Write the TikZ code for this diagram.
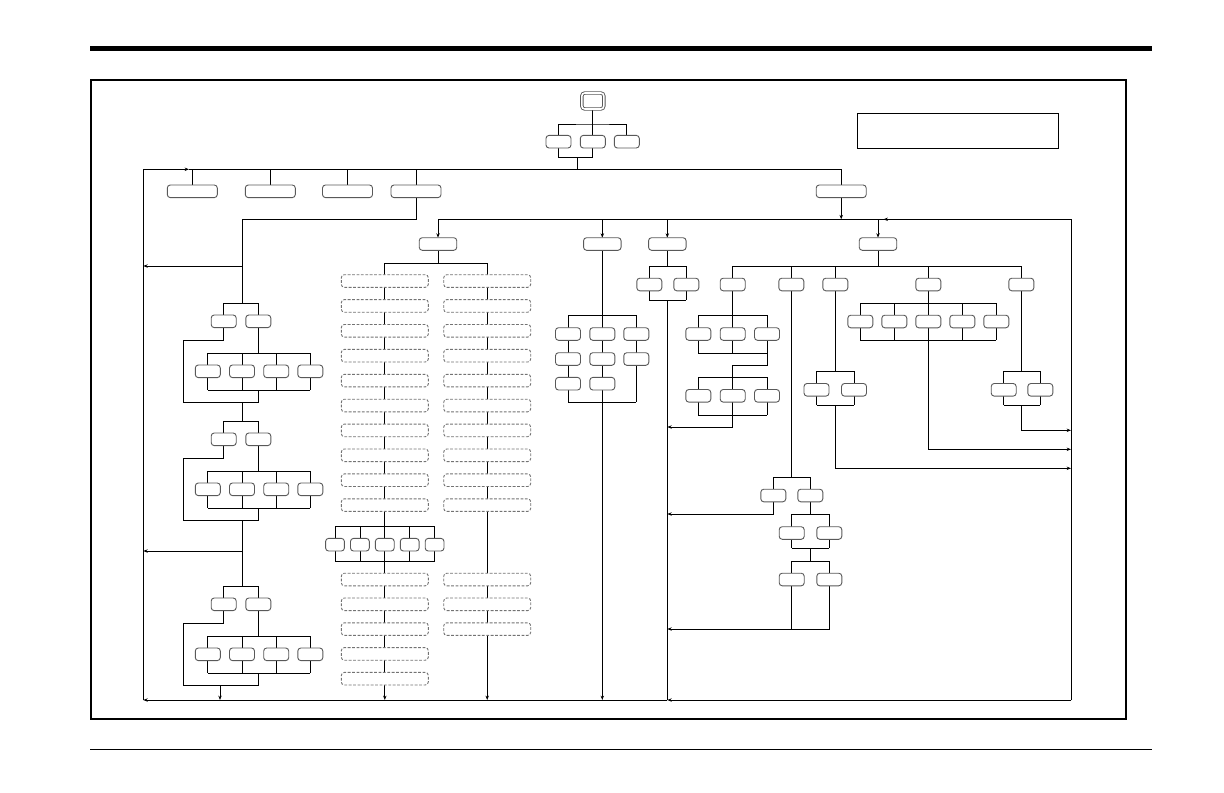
\documentclass[tikz,border=0pt]{standalone}
\usetikzlibrary{arrows.meta,backgrounds}
\begin{document}
\begin{tikzpicture}[x=0.5pt, y=-0.5pt,
  line width=0.6pt,
  bx/.style={draw=black!65, rounded corners=1.5pt, line width=0.45pt, inner sep=0pt, outer sep=0pt,
    minimum width=12.5pt, minimum height=6.3pt, fill=white},
  wbx/.style={bx, minimum width=25pt},
  mbx/.style={bx, minimum width=18.75pt},
  tbx/.style={bx, minimum width=9.4pt},
  dbx/.style={bx, draw=black!55, dash pattern=on 1.4pt off 0.8pt, minimum width=43.5pt},
  arr/.style={-{Stealth[length=2.2pt,width=1.7pt]}}]
  \useasboundingbox (0,0) rectangle (1224,792);
  % page rules and frame
  \draw[line width=2.3pt] (90,48.3) -- (1152,48.3);
  \draw[line width=0.7pt] (90,749.6) -- (1152,749.6);
  \draw[line width=1pt] (91,80.2) rectangle (1126,718.5);
  \node[draw, line width=0.6pt, minimum width=100.5pt, minimum height=17.5pt] (note) at (958,130.8) {};

  % top
  \node[bx, double=white, double distance=0.8pt, minimum width=11pt, minimum height=8pt] (root) at (592.8,101) {};
  \node[bx] (t1) at (558.5,141.7) {};
  \node[bx] (t2) at (592.8,141.7) {};
  \node[bx] (t3) at (626.8,141.7) {};
  \node[wbx] (b1) at (192.3,191.3) {};
  \node[wbx] (b2) at (270.3,191.3) {};
  \node[wbx] (b3) at (347.5,191.3) {};
  \node[wbx] (b4) at (416,191.3) {};
  \node[wbx] (b5) at (841.2,191.3) {};
  \node[mbx] (c1) at (438,244) {};
  \node[mbx] (c2) at (602.3,244) {};
  \node[mbx] (c3) at (667.3,244) {};
  \node[mbx] (c4) at (878,244) {};

  % dashed columns
  \foreach \k in {0,...,9} {
    \node[dbx] (da\k) at (384.8,281+24.9*\k) {};
    \node[dbx] (db\k) at (487.2,281+24.9*\k) {};
  }
  \foreach \k in {0,...,4}
    \node[dbx] (dc\k) at (384.8,579.5+24.8*\k) {};
  \foreach \k in {0,1,2}
    \node[dbx] (dd\k) at (487.2,579.5+24.8*\k) {};
  \foreach \k in {0,...,4}
    \node[tbx] (f\k) at (335+24.9*\k,544.7) {};

  % left groups
  \foreach \g/\y in {1/303.3,2/421.3,3/586.3} {
    \node[bx] (pa\g) at (223.7,\y+18) {};
    \node[bx] (pb\g) at (258.3,\y+18) {};
    \foreach \k/\x in {1/207.8,2/242,3/276.2,4/310.3}
      \node[bx] (q\g\k) at (\x,\y+68) {};
    \coordinate (s\g) at (242.3,\y);
    \coordinate (lp\g) at (183.3,\y+37);
    \coordinate (h\g) at (258.3,\y+50);
    \coordinate (k\g) at (258.3,\y+87);
    \coordinate (rp\g) at (258.3,\y+99);
  }

  % grid under c2
  \foreach \c/\x in {1/568,2/602.3,3/636.3} {
    \node[bx] (m1\c) at (\x,334) {};
    \node[bx] (m2\c) at (\x,359) {};
  }
  \node[bx] (m31) at (568,383.7) {};
  \node[bx] (m32) at (602.3,383.7) {};

  % under c3 and c4
  \node[bx] (n1) at (649.3,284.5) {};
  \node[bx] (n2) at (686.3,284.5) {};
  \foreach \k/\x in {1/732.7,2/791.3,3/835.3,4/928.3,5/1021.3}
    \node[bx] (e\k) at (\x,284.5) {};
  \foreach \k/\x in {1/698.3,2/732.7,3/767} {
    \node[bx] (u\k) at (\x,334) {};
    \node[bx] (v\k) at (\x,395.8) {};
  }
  \node[bx] (w1) at (773.3,495.5) {};
  \node[bx] (w2) at (810.3,495.5) {};
  \node[bx] (w3) at (791.7,533) {};
  \node[bx] (w4) at (829.3,533) {};
  \node[bx] (w5) at (791.7,579.5) {};
  \node[bx] (w6) at (829.3,579.5) {};
  \node[bx] (x1) at (816.5,389.8) {};
  \node[bx] (x2) at (854,389.8) {};
  \foreach \k in {1,...,5}
    \node[bx] (y\k) at (826.3+34*\k,321.5) {};
  \node[bx] (z1) at (1003.7,389.8) {};
  \node[bx] (z2) at (1040.3,389.8) {};

  % junction points
  \coordinate (rj) at (592.8,124);
  \coordinate (tj) at (577.3,157.3);
  \coordinate (bus) at (577.3,169.3);
  \coordinate (lc) at (143.3,169.3);
  \coordinate (la) at (189,169.3);
  \coordinate (lb) at (143.3,700);
  \coordinate (kb) at (667.3,700);
  \coordinate (rb) at (1071,700);
  \coordinate (cl) at (438,219.3);
  \coordinate (cr) at (1071,219.3);
  \coordinate (ca) at (883.5,219.3);
  \coordinate (sp) at (242.3,219.3);
  \coordinate (ar1) at (242.3,266);
  \coordinate (al1) at (143.3,266);
  \coordinate (ar2) at (242.3,551);
  \coordinate (al2) at (143.3,551);
  \coordinate (ex) at (220,700);
  \coordinate (dj) at (438,263);
  \coordinate (fj) at (384.8,526.7);
  \coordinate (fk) at (384.8,561);
  \coordinate (gj) at (602.3,315.3);
  \coordinate (gk) at (602.3,402.3);
  \coordinate (nj) at (667.3,266.3);
  \coordinate (nk) at (667.3,300.3);
  \coordinate (ej) at (878,266);
  \coordinate (uj) at (732.7,315.3);
  \coordinate (uk) at (732.7,353.3);
  \coordinate (ul) at (732.7,365.3);
  \coordinate (vj) at (732.7,377.3);
  \coordinate (vk) at (732.7,415.3);
  \coordinate (kj1) at (667.3,427);
  \coordinate (wj) at (791.3,477.3);
  \coordinate (kj2) at (667.3,514);
  \coordinate (wk) at (810.3,548.3);
  \coordinate (wl) at (810.3,561);
  \coordinate (kj3) at (667.3,629);
  \coordinate (xj) at (835.3,371.3);
  \coordinate (xk) at (835.3,405.3);
  \coordinate (xa) at (1071,468.3);
  \coordinate (yj) at (928.3,303.3);
  \coordinate (yk) at (928.3,340.3);
  \coordinate (ya) at (1071,449.3);
  \coordinate (zj) at (1021.3,371.3);
  \coordinate (zk) at (1021.3,405.3);
  \coordinate (za) at (1071,430.3);

  \begin{scope}[on background layer]
    % top tree and bus
    \draw (root) -- (t2);
    \draw (t1.north) |- (rj) -| (t3.north);
    \draw (t1.south) |- (tj) -| (t2.south);
    \draw (tj) -- (bus);
    \draw (lb) -- (lc);
    \draw[arr] (lc) -- (la);
    \draw (la) -- (bus) -| (b5.north);
    \foreach \b in {b1,b2,b3,b4}
      \draw (\b.north) -- (\b |- bus);
    \draw (cl) -- (cr);
    \draw[arr] (b5.south) -- (b5 |- cl);
    \draw (rb) -- (cr);
    \draw[arr] (cr) -- (ca);
    \foreach \c in {c1,c2,c3,c4}
      \draw[arr] (\c |- cl) -- (\c.north);
    % bottom line
    \draw[arr] (rb) -- (kb);
    \draw[arr] (kb) -- (lb);

    % left spine
    \draw (b4.south) |- (sp) -- (s1);
    \draw[arr] (ar1) -- (al1);
    \draw (sp |- rp1) -- (s2);
    \draw (sp |- rp2) -- (s3);
    \draw[arr] (ar2) -- (al2);
    \draw[arr] (ex |- rp3) -- (ex);
    \foreach \g in {1,2,3} {
      \draw (pa\g.north) |- (s\g) -| (pb\g.north);
      \draw (pa\g.south) |- (lp\g) |- (rp\g) -- (k\g);
      \draw (pb\g.south) -- (h\g);
      \draw (q\g1 |- h\g) -- (q\g4 |- h\g);
      \draw (q\g1 |- k\g) -- (q\g4 |- k\g);
      \foreach \k in {1,...,4}
        \draw (q\g\k |- h\g) -- (q\g\k |- k\g);
    }

    % dashed columns
    \draw (c1) -- (dj);
    \draw (da0 |- dj) -- (db0 |- dj);
    \draw[arr] (da0 |- dj) -- (da0 |- lb);
    \draw[arr] (db0 |- dj) -- (db0 |- lb);
    \draw (f0 |- fj) -- (f4 |- fj);
    \draw (f0 |- fk) -- (f4 |- fk);
    \foreach \k in {0,...,4}
      \draw (f\k |- fj) -- (f\k |- fk);

    % grid
    \draw[arr] (c2) -- (c2 |- lb);
    \draw (m11 |- gj) -- (m13 |- gj);
    \draw (m11 |- gk) -- (m13 |- gk);
    \draw (m11 |- gj) -- (m11 |- gk);
    \draw (m13 |- gj) -- (m13 |- gk);

    % c3 branch
    \draw (c3) -- (nj);
    \draw (n1 |- nj) -- (n2 |- nj);
    \draw (n1 |- nk) -- (n2 |- nk);
    \draw (n1 |- nj) -- (n1 |- nk);
    \draw (n2 |- nj) -- (n2 |- nk);
    \draw (nk) -- (kb);

    % c4 branch
    \draw (c4) -- (ej);
    \draw (e1 |- ej) -- (e5 |- ej);
    \foreach \k in {1,...,5}
      \draw (e\k |- ej) -- (e\k);
    % e1
    \draw (e1) -- (uj);
    \draw (u1 |- uj) -- (u3 |- uj);
    \draw (u1 |- uk) -- (u3 |- uk);
    \foreach \k in {1,2,3} {
      \draw (u\k |- uj) -- (u\k |- uk);
      \draw (v\k |- vj) -- (v\k |- vk);
    }
    \draw (u3 |- uk) |- (ul) -- (vj);
    \draw (v1 |- vj) -- (v3 |- vj);
    \draw (v1 |- vk) -- (v3 |- vk);
    \draw[arr] (vk) |- (kj1);
    % e2
    \draw (e2) -- (wj);
    \draw (w1 |- wj) -- (w2 |- wj);
    \draw (w1 |- wj) -- (w1);
    \draw (w2 |- wj) -- (w2);
    \draw[arr] (w1) |- (kj2);
    \draw (w2) -- (w2 |- kj2);
    \draw (w3 |- kj2) -- (w4 |- kj2);
    \draw (w3 |- kj2) -- (w3);
    \draw (w4 |- kj2) -- (w4);
    \draw (w3 |- wk) -- (w4 |- wk);
    \draw (w3) -- (w3 |- wk);
    \draw (w4) -- (w4 |- wk);
    \draw (wk) -- (wl);
    \draw (w5 |- wl) -- (w6 |- wl);
    \draw (w5 |- wl) -- (w5);
    \draw (w6 |- wl) -- (w6);
    \draw (w5) -- (w5 |- kj3);
    \draw[arr] (w6) |- (kj3);
    % e3
    \draw (e3) -- (xj);
    \draw (x1 |- xj) -- (x2 |- xj);
    \draw (x1 |- xk) -- (x2 |- xk);
    \draw (x1 |- xj) -- (x1 |- xk);
    \draw (x2 |- xj) -- (x2 |- xk);
    \draw[arr] (xk) |- (xa);
    % e4
    \draw (e4) -- (yj);
    \draw (y1 |- yj) -- (y5 |- yj);
    \draw (y1 |- yk) -- (y5 |- yk);
    \foreach \k in {1,...,5}
      \draw (y\k |- yj) -- (y\k |- yk);
    \draw[arr] (yk) |- (ya);
    % e5
    \draw (e5) -- (zj);
    \draw (z1 |- zj) -- (z2 |- zj);
    \draw (z1 |- zk) -- (z2 |- zk);
    \draw (z1 |- zj) -- (z1 |- zk);
    \draw (z2 |- zj) -- (z2 |- zk);
    \draw[arr] (zk) |- (za);
  \end{scope}
\end{tikzpicture}
\end{document}
